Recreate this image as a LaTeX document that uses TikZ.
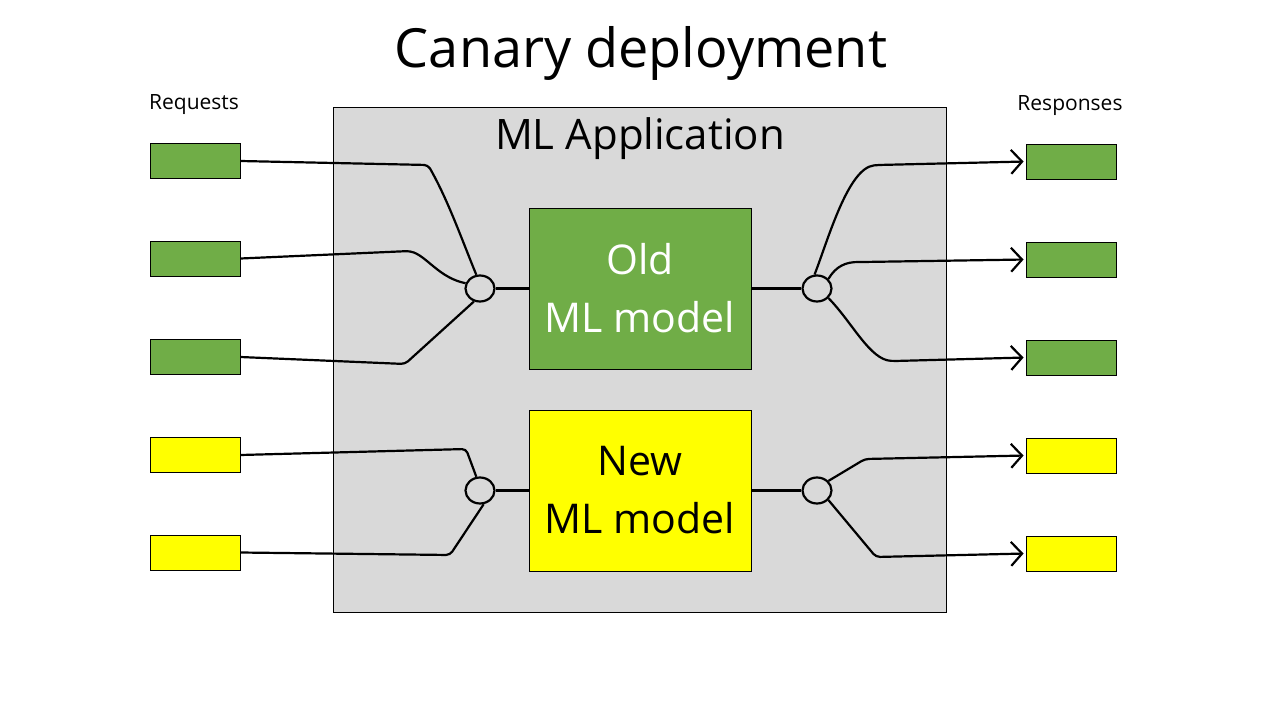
\documentclass[tikz,border=0pt]{standalone}
\usepackage{fontspec}
\setmainfont{Open Sans}
\usetikzlibrary{arrows.meta,shapes.geometric}
\definecolor{mlgreen}{HTML}{70AD47}
\definecolor{appgray}{HTML}{D9D9D9}
\definecolor{mlyellow}{HTML}{FFFF00}
\begin{document}
\begin{tikzpicture}[x=1pt,y=-1pt,
  smallbox/.style={draw=black, line width=0.9pt, inner sep=0pt, minimum width=90pt, minimum height=35pt},
  gbox/.style={smallbox, fill=mlgreen},
  ybox/.style={smallbox, fill=mlyellow},
  modelbox/.style={draw=black, line width=0.9pt, inner sep=0pt, minimum width=222pt, minimum height=161pt, align=center, font=\fontsize{41}{58}\selectfont},
  junc/.style={ellipse, draw=black, line width=2.2pt, minimum width=29pt, minimum height=26pt, inner sep=0pt},
  wire/.style={line width=2.2pt, rounded corners=4pt},
  arr/.style={wire, -{Straight Barb[length=11pt,width=24pt]}, shorten >=2pt},
  lab/.style={font=\fontsize{21}{25}\selectfont}
]
\useasboundingbox (0,0) rectangle (1280,720);
\fill[white] (0,0) rectangle (1280,720);

\node[font=\fontsize{54}{64}\selectfont] (title) at (641,53) {Canary deployment};
\node[lab] (reqlab) at (194,105) {Requests};
\node[lab] (resplab) at (1070,106) {Responses};

\node[draw=black, line width=0.9pt, fill=appgray, inner sep=0pt, minimum width=613pt, minimum height=505pt, anchor=north west] (app) at (333,107) {};
\node[font=\fontsize{42}{50}\selectfont] (applab) at (640,139) {ML Application};

\node[modelbox, fill=mlgreen, text=white] (old) at (640,288.5) {Old\\ML model};
\node[modelbox, fill=mlyellow] (new) at (640,490.5) {New\\ML model};

\node[gbox] (q1) at (195,161) {};
\node[gbox] (q2) at (195,258.5) {};
\node[gbox] (q3) at (195,357) {};
\node[ybox] (q4) at (195,455) {};
\node[ybox] (q5) at (195,552.5) {};

\node[gbox] (r1) at (1071,161.5) {};
\node[gbox] (r2) at (1071,259.5) {};
\node[gbox] (r3) at (1071,357.5) {};
\node[ybox] (r4) at (1071,455.5) {};
\node[ybox] (r5) at (1071,553.5) {};

\node[junc] (jl1) at (480,288.5) {};
\node[junc] (jr1) at (817,288.5) {};
\node[junc] (jl2) at (480,490.5) {};
\node[junc] (jr2) at (817,490.5) {};

% old model, inputs
\draw[wire] (q1.east) -- (428,165) .. controls (448,200) and (462,240) .. (jl1.105);
\draw[wire] (q2.east) -- (410,251) .. controls (428,258) and (440,278) .. (jl1.160);
\draw[wire] (q3.east) -- (405,364) -- (jl1.245);
\draw[wire] (old.west) -- (jl1.east);
% old model, outputs
\draw[wire] (old.east) -- (jr1.west);
\draw[arr] (jr1.100) .. controls (828,240) and (848,168) .. (878,165) -- (r1.west);
\draw[arr] (jr1.40) .. controls (836,266) and (846,262) .. (862,262) -- (r2.west);
\draw[arr] (jr1.-40) .. controls (852,322) and (870,360) .. (895,361) -- (r3.west);
% new model, inputs
\draw[wire] (q4.east) -- (466,449) -- (jl2.105);
\draw[wire] (q5.east) -- (450,555) -- (jl2.-75);
\draw[wire] (new.west) -- (jl2.east);
% new model, outputs
\draw[wire] (new.east) -- (jr2.west);
\draw[arr] (jr2.40) -- (865,459) -- (r4.west);
\draw[arr] (jr2.-40) -- (876,557) -- (r5.west);
\end{tikzpicture}
\end{document}
